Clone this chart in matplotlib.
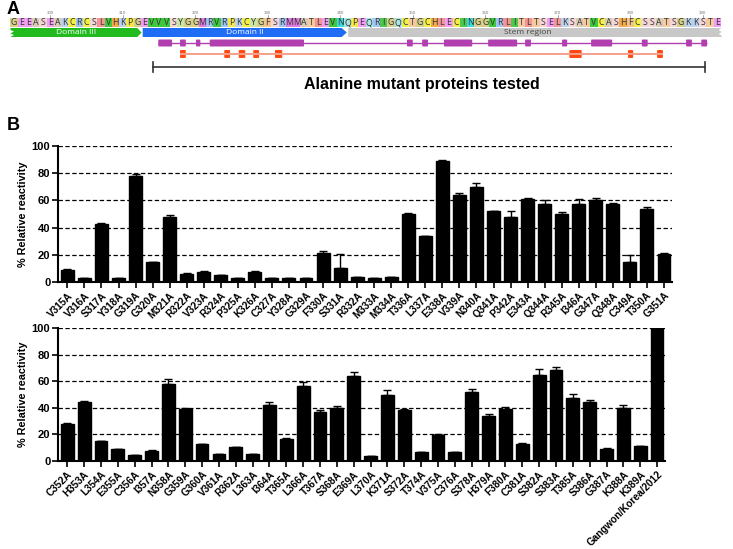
import matplotlib
matplotlib.use("Agg")
import matplotlib.pyplot as plt
from matplotlib.patches import Rectangle, FancyBboxPatch, Polygon
import numpy as np

plt.rcParams['font.family'] = ['Liberation Sans', 'DejaVu Sans']

# ---------------- data ----------------
sequence = "GEEASEAKCRCSLVHKPGEVVVSYGGMRVRPKCYGFSRMMATLEVNQPEQRIGQCTGCHLECINGGVRLITLTSELKSATVCASHFCSSATSGKKSTE"
seq_start = 295
seq_ticks = [300, 310, 320, 330, 340, 350, 360, 370, 380, 390]

domain_names = ["Domain III", "Domain II", "Stem region"]
domain_spans = [(294.5, 312.6), (312.75, 340.9), (341.1, 392.6)]

purple_line = (314.9, 390.6)
purple_boxes = [(314.9, 316.8), (317.9, 318.7), (320.1, 320.7), (322.0, 335.0),
                (349.2, 350.0), (351.3, 352.1), (354.3, 358.2), (360.4, 364.4),
                (365.5, 366.3), (370.6, 371.3), (374.6, 377.5), (381.6, 382.4),
                (387.7, 388.5), (389.8, 390.6)]
red_line = (317.9, 384.5)
red_boxes = [(317.9, 318.7), (324.0, 324.8), (326.0, 326.9), (328.0, 328.8),
             (331.0, 332.0), (371.6, 373.3), (379.7, 380.4), (383.7, 384.5)]
bracket_span = (314.2, 390.3)

top_labels = ["V315A", "V316A", "S317A", "Y318A", "G319A", "G320A", "M321A", "R322A",
              "V323A", "R324A", "P325A", "K326A", "C327A", "Y328A", "G329A", "F330A",
              "S331A", "R332A", "M333A", "M334A", "T336A", "L337A", "E338A", "V339A",
              "N340A", "Q341A", "P342A", "E343A", "Q344A", "R345A", "I346A", "G347A",
              "Q348A", "C349A", "T350A", "G351A"]
top_values = [9, 3, 42.5, 3, 78, 14.5, 48, 6, 7.5, 5, 3, 7.5, 3, 3, 3, 21.5,
              10, 3.5, 3, 3.5, 50, 33.5, 89, 64, 70, 52, 47.5, 61, 57.5, 50, 57.5,
              60.5, 57.5, 15, 54, 20.5]
top_errors = [0.5, 0.3, 1, 0.3, 1.5, 0.4, 1, 0.4, 0.4, 0.3, 0.3, 0.4, 0.3, 0.3, 0.3, 1,
              10.5, 0.3, 0.3, 0.4, 1, 0.5, 1, 1.5, 3, 0.5, 4.5, 0.5, 3, 1.5, 3.5,
              1.5, 0.5, 4.5, 1, 1]

bot_labels = ["C352A", "H353A", "L354A", "E355A", "C356A", "I357A", "N358A", "G359A",
              "G360A", "V361A", "R362A", "L363A", "I364A", "T365A", "L366A", "T367A",
              "S368A", "E369A", "L370A", "K371A", "S372A", "T374A", "V375A", "C376A",
              "S378A", "H379A", "F380A", "C381A", "S382A", "S383A", "T385A", "S386A",
              "G387A", "K388A", "K389A", "Gangwon/Korea/2012"]
bot_values = [27.5, 44, 15, 9, 4.5, 7.5, 58, 39, 12.5, 5, 10.5, 5, 42, 16.5, 56.5, 37,
              40, 64, 3.5, 50, 38.5, 6.5, 19.5, 6.5, 52, 34, 39, 13, 65, 68.5, 47.5,
              44.5, 9, 39.5, 11, 100]
bot_errors = [1, 1, 0.3, 0.3, 0.3, 0.4, 3.5, 0.5, 0.3, 0.3, 0.3, 0.3, 2.5, 0.7, 3, 1.5,
              1, 3, 0.3, 3.5, 0.5, 0.3, 0.7, 0.3, 2.5, 1, 1.5, 0.3, 4.5, 2, 3,
              1, 0.4, 2.5, 0.4, 0]

aa_colors = {
    'G': '#d7d08a', 'E': '#f29ef2', 'A': '#d9cdb8', 'S': '#f4d6d6', 'K': '#b9d3ee',
    'C': '#f3ef4a', 'R': '#9fc3f2', 'L': '#f39595', 'V': '#3ec83e', 'H': '#f4a94a',
    'P': '#f6e84a', 'Y': '#c9e6a6', 'M': '#e07ae0', 'F': '#f2c48a', 'T': '#f6caa0',
    'N': '#3fd9d9', 'Q': '#a8e6e6', 'I': '#4dc84d', 'W': '#cccccc', 'D': '#f29ef2',
}

W, H, DPI = 7.33, 5.49, 100
fig = plt.figure(figsize=(W, H), dpi=DPI)
PXW, PXH = 733.0, 549.0

# ---------------- panel A ----------------
axA = fig.add_axes([0, 1 - 95 / PXH, 1, 95 / PXH])
axA.set_xlim(295 - 14 / 7.25, 295 + 719 / 7.25)
axA.set_ylim(95, 0)
axA.axis('off')

for i, aa in enumerate(sequence):
    r = seq_start + i
    axA.add_patch(Rectangle((r - 0.5, 18), 1, 9, facecolor=aa_colors.get(aa, '#dddddd'),
                            edgecolor='none'))
    axA.text(r, 22.8, aa, ha='center', va='center', fontsize=6.3, color='#333333',
             family=['Open Sans', 'DejaVu Sans'])
for t in seq_ticks:
    axA.text(t, 12.5, str(t), ha='center', va='center', fontsize=3.2, color='#777777')
    axA.plot([t, t], [15, 17.5], color='#888888', lw=0.5)

# domain arrows
d3, d2, st = domain_spans
axA.add_patch(Polygon([(d3[0], 28), (d3[1] - 0.6, 28), (d3[1], 32.5), (d3[1] - 0.6, 37),
                       (d3[0], 37), (d3[0] + 0.5, 35), (d3[0], 33.5), (d3[0] + 0.5, 31.5),
                       (d3[0], 30)], closed=True, facecolor='#22bb1f', edgecolor='none'))
axA.add_patch(Polygon([(d2[0], 28), (d2[1] - 0.7, 28), (d2[1], 32.5), (d2[1] - 0.7, 37),
                       (d2[0], 37)], closed=True, facecolor='#1f6cf5', edgecolor='none'))
axA.add_patch(Polygon([(st[0], 28), (st[1], 28), (st[1] - 0.4, 30), (st[1], 32),
                       (st[1] - 0.4, 34), (st[1], 35.5), (st[1], 37), (st[0], 37)],
                      closed=True, facecolor='#c8c8c8', edgecolor='none'))
axA.text((d3[0] + d3[1]) / 2, 32.7, domain_names[0], ha='center', va='center',
         fontsize=6, color='white', family=['Open Sans', 'DejaVu Sans'])
axA.text((d2[0] + d2[1]) / 2, 32.7, domain_names[1], ha='center', va='center',
         fontsize=6, color='white', family=['Open Sans', 'DejaVu Sans'])
axA.text(365.9, 32.7, domain_names[2], ha='center', va='center',
         fontsize=6, color='#444444', family=['Open Sans', 'DejaVu Sans'])

# purple track
axA.plot(purple_line, [43, 43], color='#b23fb0', lw=1.0, solid_capstyle='butt')
for a, b in purple_boxes:
    axA.add_patch(FancyBboxPatch((a, 39.5), b - a, 7, boxstyle="round,pad=0,rounding_size=0.35",
                                 facecolor='#b23fb0', edgecolor='none'))
# red track
axA.plot(red_line, [54, 54], color='#f4a08c', lw=1.4, solid_capstyle='butt')
for a, b in red_boxes:
    axA.add_patch(FancyBboxPatch((a, 50), b - a, 8, boxstyle="round,pad=0,rounding_size=0.35",
                                 facecolor='#ff4a12', edgecolor='none'))
# bracket
axA.plot(bracket_span, [67, 67], color='#333333', lw=1.2)
for x in bracket_span:
    axA.plot([x, x], [62, 72], color='#333333', lw=1.2)
axA.text(351.3, 84, "Alanine mutant proteins tested", ha='center', va='center',
         fontsize=11.5, fontweight='bold', color='black')

fig.text(7 / PXW, 1 - 9 / PXH, "A", fontsize=13, fontweight='bold', va='center', ha='left')
fig.text(7 / PXW, 1 - 126 / PXH, "B", fontsize=13, fontweight='bold', va='center', ha='left')


# ---------------- panel B ----------------
def bar_panel(rect, labels, values, errors, xmax):
    ax = fig.add_axes(rect)
    x = np.arange(len(labels))
    ax.bar(x, values, width=0.76, color='black', edgecolor='black', zorder=3)
    ax.errorbar(x, values, yerr=[np.zeros(len(errors)), errors], fmt='none',
                ecolor='black', elinewidth=1.0, capsize=3, capthick=1.0, zorder=4)
    ax.set_xlim(-0.55, xmax)
    ax.set_ylim(0, 100)
    ax.set_yticks([0, 20, 40, 60, 80, 100])
    for g in [20, 40, 60, 80, 100]:
        ax.axhline(g, color='black', lw=0.9, ls=(0, (3.5, 2)), zorder=1)
    ax.set_xticks(x)
    ax.set_xticklabels(labels, rotation=45, ha='right', rotation_mode='anchor',
                       fontsize=7.2, fontweight='bold')
    for lab in ax.get_yticklabels():
        lab.set_fontweight('bold')
        lab.set_fontsize(8)
    ax.tick_params(axis='x', length=4, width=1.2, pad=2)
    ax.tick_params(axis='y', length=4, width=1.2, pad=1.5)
    for s in ['top', 'right']:
        ax.spines[s].set_visible(False)
    for s in ['left', 'bottom']:
        ax.spines[s].set_linewidth(1.5)
    ax.set_ylabel("% Relative reactivity", fontsize=7.8, fontweight='bold', labelpad=3)
    return ax


bar_panel([58 / PXW, (PXH - 282) / PXH, (672 - 58) / PXW, (282 - 146) / PXH],
          top_labels, top_values, top_errors, 35.47)
bar_panel([58 / PXW, (PXH - 461) / PXH, (665 - 58) / PXW, (461 - 328) / PXH],
          bot_labels, bot_values, bot_errors, 35.47)

fig.savefig("out.png", dpi=DPI)
